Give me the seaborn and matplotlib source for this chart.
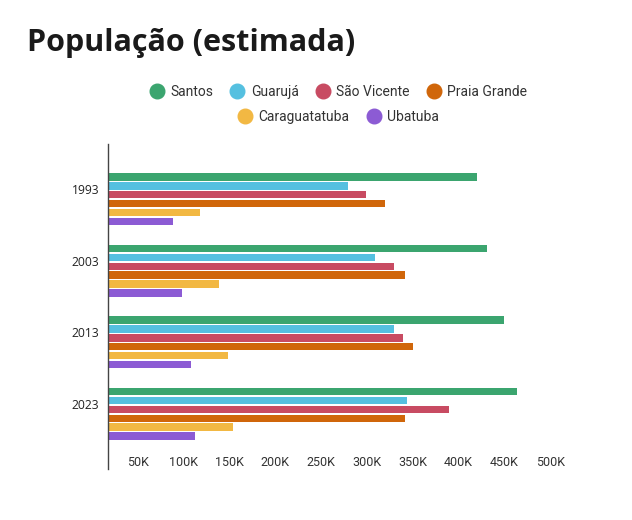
import matplotlib
matplotlib.use("Agg")
import matplotlib.pyplot as plt
import matplotlib.transforms as mtransforms
from matplotlib.lines import Line2D
import seaborn as sns
import pandas as pd

# ---- data ----
years = ["1993", "2003", "2013", "2023"]
cities = ["Santos", "Guarujá", "São Vicente", "Praia Grande", "Caraguatatuba", "Ubatuba"]
santos = [403000, 414000, 433000, 447000]
guaruja = [262000, 292000, 312000, 327000]
sao_vicente = [282000, 312000, 322000, 373000]
praia_grande = [303000, 325000, 333000, 325000]
caraguatatuba = [101000, 121000, 131000, 137000]
ubatuba = [71000, 81000, 91000, 95000]
colors = ["#3ba56f", "#55c0e0", "#c84b62", "#d0660a", "#f2b843", "#8c5bd4"]
x_ticks = [50000, 100000, 150000, 200000, 250000, 300000, 350000, 400000, 450000, 500000]
x_tick_labels = ["50K", "100K", "150K", "200K", "250K", "300K", "350K", "400K", "450K", "500K"]

series = [santos, guaruja, sao_vicente, praia_grande, caraguatatuba, ubatuba]
rows = []
for city, vals in zip(cities, series):
    for y, v in zip(years, vals):
        rows.append({"year": y, "city": city, "pop": v})
df = pd.DataFrame(rows)

sns.set_style("white")
plt.rcParams["font.family"] = ["Roboto", "DejaVu Sans"]

W, H = 632, 520
fig = plt.figure(figsize=(W / 100, H / 100), dpi=100)
left, right, top, bottom = 107.7, 575, 144, 469
ax = fig.add_axes([left / W, 1 - bottom / H, (right - left) / W, (bottom - top) / H])

sns.barplot(data=df, x="pop", y="year", hue="city", hue_order=cities, order=years,
            orient="h", palette=colors, width=0.75, gap=0.17, saturation=1,
            linewidth=0, edgecolor="none", legend=False, ax=ax)

ax.set_xlim(0, 510000)
ax.set_ylim(3.772, -0.772)
ax.set_xlabel("")
ax.set_ylabel("")
for s in ["top", "right", "bottom"]:
    ax.spines[s].set_visible(False)
ax.spines["left"].set_color("#444444")
ax.spines["left"].set_linewidth(1.0)

ax.set_xticks(x_ticks)
ax.set_xticklabels(x_tick_labels)
ax.tick_params(axis="x", length=0, pad=-9.5, labelsize=9, labelcolor="#333333")
ax.tick_params(axis="y", length=0, pad=6, labelsize=8.7, labelcolor="#222222")

xoff = mtransforms.ScaledTranslation(-15.7 / 100, 0, fig.dpi_scale_trans)
for lab in ax.get_xticklabels():
    lab.set_transform(lab.get_transform() + xoff)
yoff = mtransforms.ScaledTranslation(0, 10 / 100, fig.dpi_scale_trans)
for lab in ax.get_yticklabels():
    lab.set_transform(lab.get_transform() + yoff)
    lab.set_family(["Open Sans", "DejaVu Sans"])

# title
fig.text(27 / W, 1 - 51 / H, "População (estimada)", fontsize=22, fontweight="bold",
         family=["Open Sans", "DejaVu Sans"], color="#1a1a1a", va="baseline", ha="left")

# legend in two centered rows
def handles_for(names):
    hs = []
    for n in names:
        c = colors[cities.index(n)]
        hs.append(Line2D([], [], marker="o", linestyle="none", markersize=10.5,
                         markerfacecolor=c, markeredgecolor=c))
    return hs

row1 = cities[:4]
row2 = cities[4:]
kw = dict(frameon=False, fontsize=10, handletextpad=0.45, columnspacing=1.25,
          handlelength=1.0, borderaxespad=0, borderpad=0, labelcolor="#333333")
fig.legend(handles_for(row1), row1, ncol=len(row1), loc="center",
           bbox_to_anchor=(338.5 / W, 1 - 92 / H), **kw)
fig.legend(handles_for(row2), row2, ncol=len(row2), loc="center",
           bbox_to_anchor=(338.8 / W, 1 - 117 / H), **kw)

fig.savefig("out.png", dpi=100, facecolor="white")
